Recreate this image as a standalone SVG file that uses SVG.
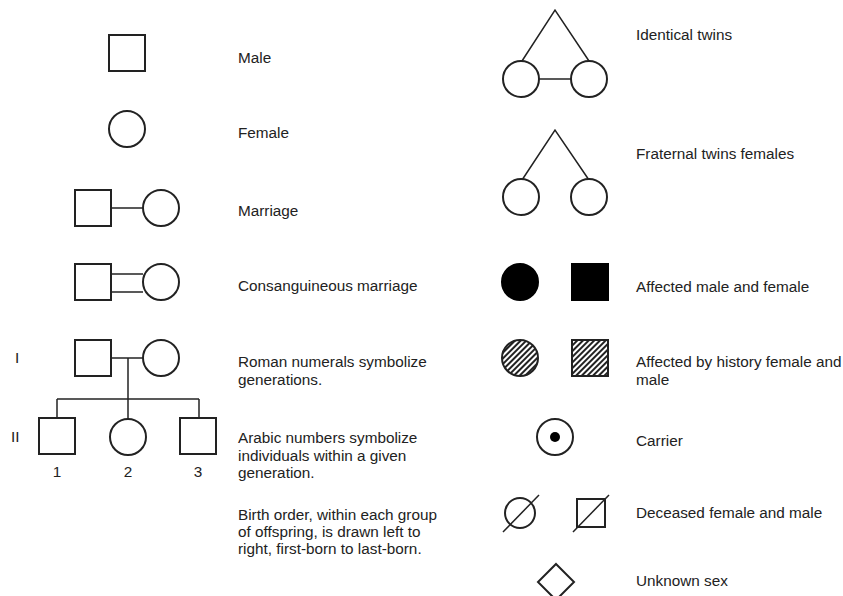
<svg xmlns="http://www.w3.org/2000/svg" width="843" height="596" viewBox="0 0 843 596">
<defs>
<pattern id="hatch" patternUnits="userSpaceOnUse" width="4" height="4" patternTransform="rotate(45)">
<rect width="4" height="4" fill="#fff"/>
<rect width="2" height="4" fill="#222"/>
</pattern>
</defs>
<style>
.s{fill:#fff;stroke:#222;stroke-width:2}
.f{fill:#000;stroke:#000;stroke-width:2}
.h{fill:url(#hatch);stroke:#222;stroke-width:2}
.l{fill:none;stroke:#222;stroke-width:1.5}
text{font-family:"Liberation Sans",Arial,sans-serif;font-size:15.3px;fill:#222}
</style>
<rect width="843" height="596" fill="#fff"/>
<g id="connectors">
<line class="l" x1="111" y1="208" x2="143" y2="208"/>
<line class="l" x1="111" y1="274" x2="143" y2="274"/>
<line class="l" x1="111" y1="292" x2="143" y2="292"/>
<line class="l" x1="111" y1="358" x2="143" y2="358"/>
<line class="l" x1="128" y1="358" x2="128" y2="399"/>
<line class="l" x1="57" y1="399" x2="199" y2="399"/>
<line class="l" x1="57" y1="399" x2="57" y2="418"/>
<line class="l" x1="128" y1="399" x2="128" y2="419"/>
<line class="l" x1="199" y1="399" x2="199" y2="418"/>
<polyline class="l" points="522,61 555,10 589,61"/>
<line class="l" x1="539" y1="79" x2="571" y2="79"/>
<polyline class="l" points="522,180 555,130 589,180"/>
</g>
<g id="male"><rect class="s" x="109" y="35" width="36" height="36"/><text x="238" y="63">Male</text></g>
<g id="female"><circle class="s" cx="127" cy="129" r="18"/><text x="238" y="138">Female</text></g>
<g id="marriage"><rect class="s" x="75" y="190" width="36" height="36"/><circle class="s" cx="161" cy="208" r="18"/><text x="238" y="216">Marriage</text></g>
<g id="consanguineous"><rect class="s" x="75" y="264" width="36" height="36"/><circle class="s" cx="161" cy="282" r="18"/><text x="238" y="291">Consanguineous marriage</text></g>
<g id="gen-I"><text x="15" y="363">I</text><rect class="s" x="75" y="340" width="36" height="36"/><circle class="s" cx="161" cy="358" r="18"/><text x="238" y="367">Roman numerals symbolize</text><text x="238" y="385">generations.</text></g>
<g id="gen-II"><text x="11" y="442">II</text>
<rect class="s" x="39" y="418" width="36" height="36"/><circle class="s" cx="128" cy="437" r="18"/><rect class="s" x="180" y="418" width="36" height="36"/>
<text x="57" y="477" text-anchor="middle">1</text><text x="128" y="477" text-anchor="middle">2</text><text x="198" y="477" text-anchor="middle">3</text>
<text x="238" y="443">Arabic numbers symbolize</text><text x="238" y="461">individuals within a given</text><text x="238" y="478">generation.</text></g>
<g id="birth-order"><text x="238" y="520">Birth order, within each group</text><text x="238" y="537">of offspring, is drawn left to</text><text x="238" y="554">right, first-born to last-born.</text></g>
<g id="identical-twins"><circle class="s" cx="521" cy="79" r="18"/><circle class="s" cx="589" cy="79" r="18"/><text x="636" y="40">Identical twins</text></g>
<g id="fraternal-twins"><circle class="s" cx="521" cy="197" r="18"/><circle class="s" cx="589" cy="197" r="18"/><text x="636" y="159">Fraternal twins females</text></g>
<g id="affected"><circle class="f" cx="520" cy="282" r="18"/><rect class="f" x="572" y="264" width="36" height="36"/><text x="636" y="292">Affected male and female</text></g>
<g id="affected-history"><circle class="h" cx="520" cy="358" r="18"/><rect class="h" x="572" y="340" width="36" height="36"/><text x="636" y="367">Affected by history female and</text><text x="636" y="385">male</text></g>
<g id="carrier"><circle class="s" cx="555" cy="437" r="18"/><circle cx="555" cy="437" r="5" fill="#000"/><text x="636" y="446">Carrier</text></g>
<g id="deceased"><circle class="s" cx="520" cy="513" r="15"/><line class="l" x1="503" y1="532" x2="539" y2="495"/><rect class="s" x="577" y="499" width="28" height="28"/><line class="l" x1="573" y1="532" x2="609" y2="495"/><text x="636" y="518">Deceased female and male</text></g>
<g id="unknown"><polygon class="s" points="556,564 574,582 556,600 538,582"/><text x="636" y="586">Unknown sex</text></g>
</svg>
